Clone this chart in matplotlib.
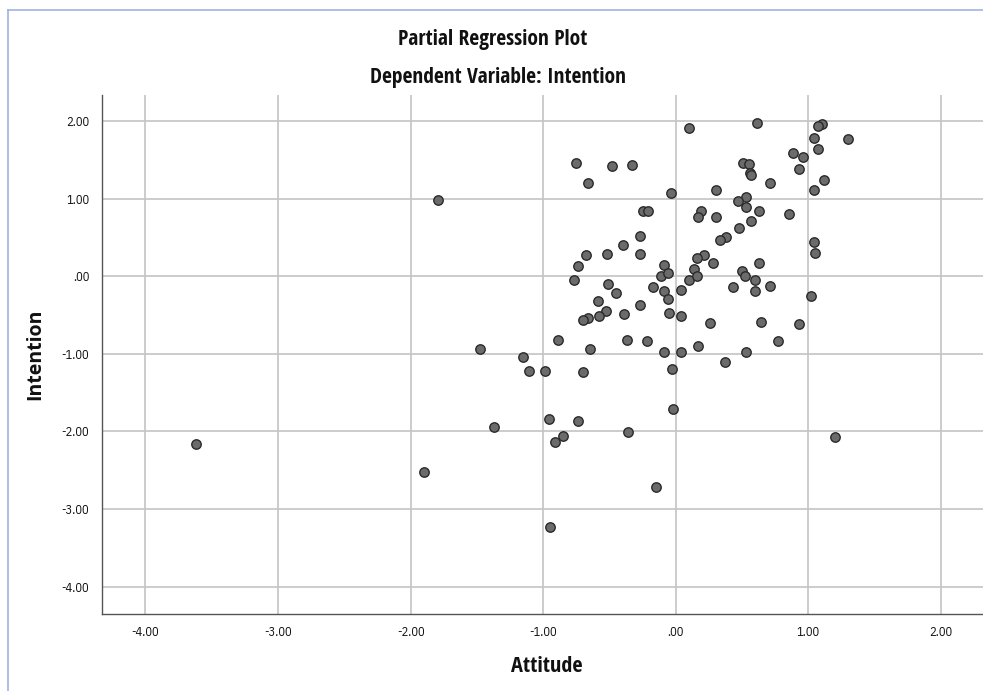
import matplotlib
matplotlib.use("Agg")
import matplotlib.pyplot as plt
from matplotlib.lines import Line2D

attitude = [
    -3.62, -1.90, -1.79, -1.48, -1.15, -1.11, -1.37, -0.96, -0.74, -0.85,
    -0.91, -0.36, -0.02, -0.15, -0.95, -0.68, -0.52, -0.27, -0.74, -0.77,
    -0.09, -0.11, -0.06, 0.10, -0.51, -0.45, -0.17, -0.09, -0.06, 0.04,
    -0.59, -0.27, -0.53, -0.58, -0.66, -0.70, -0.39, -0.05, 0.04, -0.89,
    -0.65, -0.37, -0.22, -0.09, 0.04, -0.99, -0.70, -0.03, -0.75, -0.66,
    -0.48, -0.33, -0.04, -0.25, -0.21, -0.27, -0.40, 0.10, 0.61, 1.10,
    1.07, 1.04, 1.07, 0.88, 0.96, 0.93, 0.51, 0.55, 0.56, 0.57,
    0.71, 1.12, 1.04, 0.30, 0.53, 0.47, 0.53, 0.63, 0.85, 0.19,
    0.17, 0.30, 0.57, 0.48, 0.38, 0.33, 1.04, 1.05, 0.21, 0.16,
    0.28, 0.14, 0.16, 0.50, 0.52, 0.63, 0.60, 0.43, 0.60, 0.71,
    1.02, 0.26, 0.64, 0.93, 0.77, 0.17, 0.53, 0.37, 1.20, 1.30,
]
intention = [
    -2.16, -2.52, 0.99, -0.93, -1.04, -1.22, -1.94, -1.84, -1.86, -2.06,
    -2.13, -2.01, -1.71, -2.71, -3.23, 0.27, 0.29, 0.29, 0.14, -0.04,
    0.15, 0.00, 0.04, -0.04, -0.10, -0.22, -0.13, -0.19, -0.29, -0.17,
    -0.32, -0.37, -0.44, -0.51, -0.53, -0.56, -0.49, -0.47, -0.51, -0.82,
    -0.93, -0.82, -0.83, -0.98, -0.98, -1.22, -1.23, -1.19, 1.46, 1.21,
    1.43, 1.44, 1.07, 0.85, 0.85, 0.52, 0.41, 1.92, 1.98, 1.97,
    1.94, 1.78, 1.64, 1.59, 1.54, 1.38, 1.46, 1.45, 1.34, 1.31,
    1.21, 1.24, 1.11, 1.11, 1.02, 0.97, 0.89, 0.85, 0.81, 0.84,
    0.77, 0.77, 0.72, 0.63, 0.51, 0.47, 0.44, 0.30, 0.28, 0.24,
    0.17, 0.09, 0.01, 0.07, 0.00, 0.17, -0.04, -0.13, -0.19, -0.12,
    -0.25, -0.60, -0.59, -0.62, -0.83, -0.90, -0.98, -1.10, -2.07, 1.77,
]
x_ticks = [-4, -3, -2, -1, 0, 1, 2]
x_tick_labels = ["-4.00", "-3.00", "-2.00", "-1.00", ".00", "1.00", "2.00"]
y_ticks = [-4, -3, -2, -1, 0, 1, 2]
y_tick_labels = ["-4.00", "-3.00", "-2.00", "-1.00", ".00", "1.00", "2.00"]

W, H = 983, 691
fig = plt.figure(figsize=(W / 100, H / 100), dpi=100)
fig.patch.set_facecolor("white")

cond_bold = ["Open Sans Condensed", "DejaVu Sans"]
cond_reg = ["IBM Plex Sans Condensed", "DejaVu Sans"]

AX_L, AX_R, AX_T, AX_B = 101.7, 990.0, 95.0, 613.7
ax = fig.add_axes([AX_L / W, 1 - AX_B / H, (AX_R - AX_L) / W, (AX_B - AX_T) / H])
ax.set_xlim(-4.33, (AX_R - 675.8) / 132.6)
ax.set_ylim(-4.35, 2.34)

ax.set_xticks(x_ticks)
ax.set_xticklabels(x_tick_labels, family=cond_reg, fontsize=9, color="#111111")
ax.set_yticks(y_ticks)
ax.set_yticklabels(y_tick_labels, family=cond_reg, fontsize=9, color="#111111")
ax.tick_params(axis="x", length=0, pad=9)
ax.tick_params(axis="y", length=0, pad=9)

ax.grid(True, color="#c4c4c4", linewidth=1.2)
ax.set_axisbelow(True)
for s in ["top", "right"]:
    ax.spines[s].set_visible(False)
for s in ["left", "bottom"]:
    ax.spines[s].set_color("#555555")
    ax.spines[s].set_linewidth(1.0)

ax.scatter(attitude, intention, s=46, facecolor="#6b6b6b", edgecolor="#2a2a2a",
           linewidth=1.0, zorder=3)

ax.set_xlabel("Attitude", family=cond_bold, fontsize=16, fontweight="bold",
              color="#111111")
ax.xaxis.set_label_coords((547 - AX_L) / (AX_R - AX_L), -(667 - AX_B) / (AX_B - AX_T))
ax.xaxis.label.set_va("center")
ax.set_ylabel("Intention", family=["Open Sans", "DejaVu Sans"], fontsize=14,
              fontweight="bold", color="#111111")
ax.yaxis.set_label_coords(-(AX_L - 35) / (AX_R - AX_L), 0.5)
ax.yaxis.label.set_va("center")

fig.text(493 / W, 1 - 40 / H, "Partial Regression Plot", family=cond_bold,
         fontsize=15.5, fontweight="bold", ha="center", va="center", color="#111111")
fig.text(498 / W, 1 - 78 / H, "Dependent Variable: Intention", family=cond_bold,
         fontsize=15.5, fontweight="bold", ha="center", va="center", color="#111111")

# thin blue frame at top and left
fig.add_artist(Line2D([8 / W, 1.0], [1 - 10 / H, 1 - 10 / H], color="#9fb3e0",
                      linewidth=1.2, transform=fig.transFigure))
fig.add_artist(Line2D([8 / W, 8 / W], [0, 1 - 10 / H], color="#9fb3e0",
                      linewidth=1.2, transform=fig.transFigure))

fig.savefig("out.png", dpi=100)
